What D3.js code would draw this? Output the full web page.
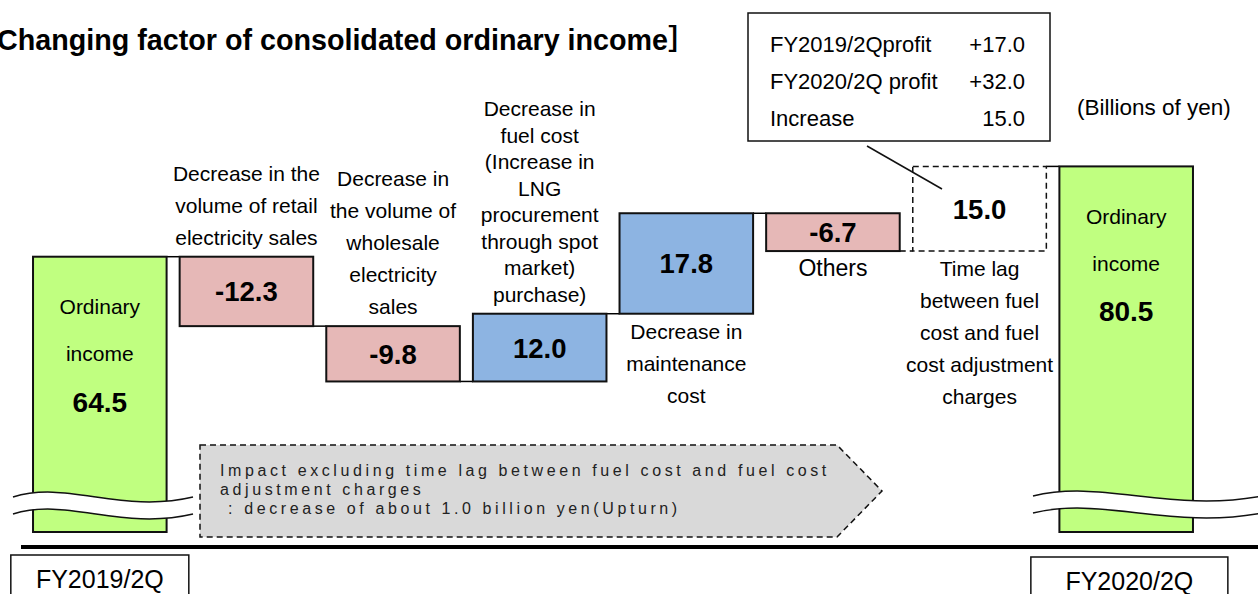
<!DOCTYPE html>
<html>
<head>
<meta charset="utf-8">
<script src="https://cdn.jsdelivr.net/npm/d3@7"></script>
<style>
  body { margin: 0; background: #fff; }
  svg { display: block; font-family: "Liberation Sans", Arial, "Noto Sans CJK JP", sans-serif; }
</style>
</head>
<body>
<div id="chart"></div>
<script>
// --- data ---
const categories = ["FY2019/2Q", "retail", "wholesale", "fuel", "maintenance", "others", "timelag", "FY2020/2Q"];
const startValue = 64.5;
const endValue = 80.5;
const changes = [-12.3, -9.8, 12.0, 17.8, -6.7, 15.0];
const changeLabels = [
    ["Decrease in the", "volume of retail", "electricity sales"],
    ["Decrease in", "the volume of", "wholesale", "electricity", "sales"],
    ["Decrease in", "fuel cost", "(Increase in", "LNG", "procurement", "through spot", "market)", "purchase)"],
    ["Decrease in", "maintenance", "cost"],
    ["Others"],
    ["Time lag", "between fuel", "cost and fuel", "cost adjustment", "charges"]
];
const labelSide = ["above", "above", "above", "below", "below", "below"];
const totalLabel = ["Ordinary", "income"];
const periodLabels = ["FY2019/2Q", "FY2020/2Q"];
const infoRows = [["FY2019/2Qprofit", "+17.0"], ["FY2020/2Q profit", "+32.0"], ["Increase", "15.0"]];
const noteLines = [
    "Impact excluding time lag between fuel cost and fuel cost",
    "adjustment charges",
    "\u00a0: decrease of about 1.0 billion yen(Upturn)"
];
const dashedCategory = "timelag";

// --- layout ---
const width = 1258, height = 594,
    plotBottom = 532,
    colors = {total: "#c0ff80", up: "#8db4e2", down: "#e6b8b7", note: "#d9d9d9"},
    labelSize = [21, 21, 21, 21, 23, 21],
    lineGap = [32, 32, 26.5, 32, 32, 32];

// plain hyphen for negatives, like the slide
const fmt = d3.formatLocale({decimal: ".", thousands: ",", grouping: [3], currency: ["", ""], minus: "-"}).format(".1f");

const svg = d3.select("#chart")
    .append("svg")
    .attr("width", width)
    .attr("height", height);

const xScale = d3.scaleBand()
    .domain(categories)
    .range([26.5, 1199.5])
    .paddingInner(0.089)
    .paddingOuter(0.0445);

// broken axis: only the upper part of the totals is on scale
const yScale = d3.scaleLinear()
    .domain([40, 85])
    .range([395, 141]);

let cum = startValue;
const steps = changes.map((c, i) => {
    const s = cum;
    cum = +(cum + c).toFixed(1);
    return {cat: categories[i + 1], start: s, end: cum, change: c,
        lines: changeLabels[i], side: labelSide[i], size: labelSize[i], gap: lineGap[i]};
});
const totals = [
    {cat: categories[0], value: startValue, period: periodLabels[0], boxW: 178, boxY: 555},
    {cat: categories[categories.length - 1], value: endValue, period: periodLabels[1], boxW: 197, boxY: 557}
];

// title
svg.append("text")
    .attr("x", -3)
    .attr("y", 50)
    .attr("font-size", 28.7)
    .attr("font-weight", "bold")
    .text("Changing factor of consolidated ordinary income\uff3d");

// connectors between bars
const levels = [startValue].concat(steps.map(d => d.end));
svg.selectAll("line.conn")
    .data(levels)
    .join("line")
    .attr("class", "conn")
    .attr("x1", (d, i) => xScale(categories[i]) + xScale.bandwidth())
    .attr("x2", (d, i) => xScale(categories[i + 1]))
    .attr("y1", d => yScale(d))
    .attr("y2", d => yScale(d))
    .attr("stroke", "#000")
    .attr("stroke-width", 1.5)
    .attr("stroke-dasharray", (d, i) => categories[i + 1] === dashedCategory ? "6,4" : null);

// change bars
svg.selectAll("rect.step")
    .data(steps)
    .join("rect")
    .attr("class", "step")
    .attr("x", d => xScale(d.cat))
    .attr("y", d => yScale(Math.max(d.start, d.end)))
    .attr("width", xScale.bandwidth())
    .attr("height", d => Math.abs(yScale(d.start) - yScale(d.end)))
    .attr("fill", d => d.cat === dashedCategory ? "#fff" : (d.change > 0 ? colors.up : colors.down))
    .attr("stroke", "#111")
    .attr("stroke-width", d => d.cat === dashedCategory ? 1.5 : 2)
    .attr("stroke-dasharray", d => d.cat === dashedCategory ? "6,4" : null);

// values in bars
svg.selectAll("text.val")
    .data(steps)
    .join("text")
    .attr("class", "val")
    .attr("x", d => xScale(d.cat) + xScale.bandwidth() / 2)
    .attr("y", d => (yScale(d.start) + yScale(d.end)) / 2 + 10)
    .attr("text-anchor", "middle")
    .attr("font-size", 27.5)
    .attr("font-weight", "bold")
    .text(d => fmt(d.change));

// category labels
steps.forEach(d => {
    const cx = xScale(d.cat) + xScale.bandwidth() / 2;
    const top = yScale(Math.max(d.start, d.end));
    const bottom = yScale(Math.min(d.start, d.end));
    const y0 = d.side === "above" ? top - 12 - (d.lines.length - 1) * d.gap : bottom + 25;
    svg.append("text")
        .attr("text-anchor", "middle")
        .attr("font-size", d.size)
        .selectAll("tspan")
        .data(d.lines)
        .join("tspan")
        .attr("x", cx)
        .attr("y", (t, i) => y0 + i * d.gap)
        .text(t => t);
});

// total bars
svg.selectAll("rect.total")
    .data(totals)
    .join("rect")
    .attr("class", "total")
    .attr("x", d => xScale(d.cat))
    .attr("y", d => yScale(d.value))
    .attr("width", xScale.bandwidth())
    .attr("height", d => plotBottom - yScale(d.value))
    .attr("fill", colors.total)
    .attr("stroke", "#111")
    .attr("stroke-width", 2);

totals.forEach(d => {
    const cx = xScale(d.cat) + xScale.bandwidth() / 2;
    const top = yScale(d.value);
    const g = svg.append("g").attr("text-anchor", "middle");
    g.append("text").attr("x", cx).attr("y", top + 57.5).attr("font-size", 21).text(totalLabel[0]);
    g.append("text").attr("x", cx).attr("y", top + 104.5).attr("font-size", 21).text(totalLabel[1]);
    g.append("text").attr("x", cx).attr("y", top + 155).attr("font-size", 28)
        .attr("font-weight", "bold").text(fmt(d.value));
});

// axis break marks
function wave(x0, x1, y0) {
    const w = x1 - x0;
    return `M${x0},${y0} C${x0 + w * 0.3},${y0 - 17} ${x0 + w * 0.6},${y0 + 17} ${x1},${y0}`;
}
function waveBack(x0, x1, y0) {
    const w = x1 - x0;
    return `L${x1},${y0} C${x0 + w * 0.6},${y0 + 17} ${x0 + w * 0.3},${y0 - 17} ${x0},${y0}`;
}
const breaks = [{x0: 13, x1: 193, y0: 497}, {x0: 1033, x1: 1262, y0: 496}];
breaks.forEach(b => {
    svg.append("path")
        .attr("d", wave(b.x0, b.x1, b.y0) + waveBack(b.x0, b.x1, b.y0 + 17) + "Z")
        .attr("fill", "#fff");
    [b.y0, b.y0 + 17].forEach(yy => {
        svg.append("path")
            .attr("d", wave(b.x0, b.x1, yy))
            .attr("fill", "none")
            .attr("stroke", "#111")
            .attr("stroke-width", 1.5);
    });
});

// note arrow box
svg.append("path")
    .attr("d", "M200,445 H837 L882,491 L837,537 H200 Z")
    .attr("fill", colors.note)
    .attr("stroke", "#111")
    .attr("stroke-width", 1.5)
    .attr("stroke-dasharray", "6,4");
svg.append("text")
    .attr("font-size", 16)
    .attr("letter-spacing", 3.6)
    .attr("fill", "#222")
    .selectAll("tspan")
    .data(noteLines)
    .join("tspan")
    .attr("x", 220)
    .attr("y", (d, i) => 476 + i * 19)
    .text(d => d);

// info box with callout
svg.append("rect")
    .attr("x", 748).attr("y", 13)
    .attr("width", 302).attr("height", 128)
    .attr("fill", "#fff")
    .attr("stroke", "#111")
    .attr("stroke-width", 1.5);
infoRows.forEach((r, i) => {
    svg.append("text").attr("x", 770).attr("y", 52 + i * 37).attr("font-size", 22).text(r[0]);
    svg.append("text").attr("x", 1025).attr("y", 52 + i * 37).attr("font-size", 22)
        .attr("text-anchor", "end").text(r[1]);
});
svg.append("line")
    .attr("x1", 867).attr("y1", 146)
    .attr("x2", 942).attr("y2", 189)
    .attr("stroke", "#111")
    .attr("stroke-width", 1.5);

svg.append("text")
    .attr("x", 1077)
    .attr("y", 115)
    .attr("font-size", 22.5)
    .text("(Billions of yen)");

// baseline
svg.append("line")
    .attr("x1", 21).attr("x2", width)
    .attr("y1", 547).attr("y2", 547)
    .attr("stroke", "#000")
    .attr("stroke-width", 4);

// period labels
totals.forEach(d => {
    const cx = xScale(d.cat) + xScale.bandwidth() / 2 + (d.boxW - 178) / 6;
    svg.append("rect")
        .attr("x", cx - d.boxW / 2).attr("y", d.boxY)
        .attr("width", d.boxW).attr("height", 60)
        .attr("fill", "#fff")
        .attr("stroke", "#111")
        .attr("stroke-width", 1.5);
    svg.append("text")
        .attr("x", cx).attr("y", d.boxY + 33)
        .attr("text-anchor", "middle")
        .attr("font-size", 25)
        .text(d.period);
});
</script>
</body>
</html>
